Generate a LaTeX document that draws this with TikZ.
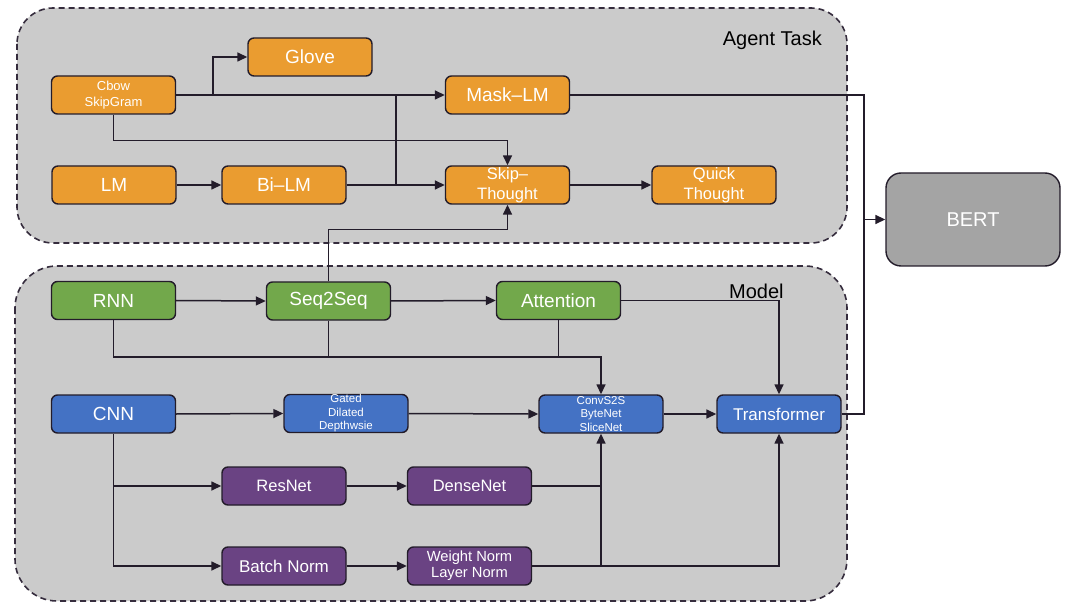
\documentclass[tikz,border=0pt]{standalone}
\usepackage{fontspec}
\setmainfont{Liberation Sans}
\usetikzlibrary{arrows.meta}
\definecolor{orangeb}{HTML}{EA9C30}
\definecolor{greenb}{HTML}{72A84B}
\definecolor{blueb}{HTML}{4472C4}
\definecolor{purpleb}{HTML}{6A4383}
\definecolor{contfill}{HTML}{CBCBCB}
\definecolor{bertfill}{HTML}{A4A4A4}
\definecolor{edge}{HTML}{231C2A}
\definecolor{dashc}{HTML}{352C3D}
\tikzset{
  box/.style={draw=edge, line width=1.4pt, rounded corners=6pt, minimum width=124pt,
    minimum height=38pt, inner sep=0pt, text=white, align=center,
    font=\fontsize{19}{22}\selectfont},
  ob/.style={box, fill=orangeb},
  gb/.style={box, fill=greenb},
  bb/.style={box, fill=blueb},
  pb/.style={box, fill=purpleb},
  cont/.style={draw=dashc, line width=1.6pt, dash pattern=on 6pt off 4pt, fill=contfill},
  conn/.style={draw=edge, line width=1.5pt},
  arr/.style={conn, -{Triangle[length=10pt,width=9pt]}},
  lbl/.style={text=black, font=\fontsize{20}{24}\selectfont, inner sep=0pt},
}
\begin{document}
\begin{tikzpicture}[x=1pt,y=-1pt]
\useasboundingbox (0,0) rectangle (1075,609);
% containers
\draw[cont, rounded corners=36pt] (17,8) rectangle (847,243);
\draw[cont, rounded corners=42pt] (15,266) rectangle (847,601);
\node[lbl, anchor=east] (agent) at (822,40) {Agent Task};
\node[lbl, anchor=west] (model) at (729,291) {Model};
% agent task nodes
\node[ob, font=\fontsize{13}{16}\selectfont] (cbow) at (113.5,95) {Cbow\\SkipGram};
\node[ob] (glove) at (310,57) {Glove};
\node[ob] (lm) at (114,185) {LM};
\node[ob] (bilm) at (284,185) {Bi–LM};
\node[ob] (mask) at (507.5,95) {Mask–LM};
\node[ob, font=\fontsize{16.5}{20}\selectfont] (skip) at (507.5,185) {Skip–\\Thought};
\node[ob, font=\fontsize{16.5}{20}\selectfont] (quick) at (714,185) {Quick\\Thought};
\node[box, fill=bertfill, minimum width=174pt, minimum height=93pt, rounded corners=15pt, font=\fontsize{20}{24}\selectfont] (bert) at (973,219.5) {BERT};
% model nodes
\node[gb] (rnn) at (113.5,300.5) {RNN};
\node[gb] (seq) at (328.5,301) {Seq2Seq};
\node[gb] (att) at (558.5,300.5) {Attention};
\node[bb] (cnn) at (113.5,414) {CNN};
\node[bb, font=\fontsize{11.5}{13.5}\selectfont] (gated) at (346,413.5) {Gated\\Dilated\\Depthwsie};
\node[bb, font=\fontsize{11.5}{13.5}\selectfont] (conv) at (601,414) {ConvS2S\\ByteNet\\SliceNet};
\node[bb, font=\fontsize{17}{20}\selectfont] (trans) at (779,414) {Transformer};
\node[pb, font=\fontsize{16.5}{20}\selectfont] (res) at (284,486) {ResNet};
\node[pb, font=\fontsize{16.5}{20}\selectfont] (dense) at (469.5,486) {DenseNet};
\node[pb, font=\fontsize{17}{20}\selectfont] (bn) at (284,566) {Batch Norm};
\node[pb, font=\fontsize{14.7}{16}\selectfont] (wn) at (469.5,566) {Weight Norm\\Layer Norm};
% helper coordinates
\coordinate (j1) at (396,95);
\coordinate (bus) at (864,219.5);
\coordinate (j2) at (601,357);
% agent task connectors
\draw[arr] (cbow.east) -- ++(37,0) |- (glove.west);
\draw[arr] (cbow.east) -- (mask.west);
\draw[conn] (j1) -- (j1 |- bilm.east);
\draw[arr] (bilm.east) -- (skip.west);
\draw[arr] (cbow.south) -- ++(0,26) -| (skip.north);
\draw[arr] (lm.east) -- (bilm.west);
\draw[arr] (skip.east) -- (quick.west);
\draw[arr] (mask.east) -| (bus) -- (bert.west);
\draw[conn] (trans.east) -| (bus);
% model connectors
\draw[arr] (seq.north) -- ++(0,-52) -| (skip.south);
\draw[arr] (rnn.east) -- (seq.west);
\draw[arr] (seq.east) -- (att.west);
\draw[arr] (att.east) -| (trans.north);
\draw[arr] (rnn.south) |- (j2) -- (conv.north);
\draw[conn] (seq.south) -- (seq.south |- j2);
\draw[conn] (att.south) -- (att.south |- j2);
\draw[arr] (cnn.east) -- (gated.west);
\draw[arr] (gated.east) -- (conv.west);
\draw[arr] (conv.east) -- (trans.west);
\draw[arr] (cnn.south) |- (bn.west);
\draw[arr] (cnn.south |- res.west) -- (res.west);
\draw[arr] (res.east) -- (dense.west);
\draw[arr] (bn.east) -- (wn.west);
\draw[arr] (dense.east) -| (conv.south);
\draw[arr] (wn.east) -| (trans.south);
\draw[conn] (wn.east -| conv.south) -- (dense.east -| conv.south);
\end{tikzpicture}
\end{document}
